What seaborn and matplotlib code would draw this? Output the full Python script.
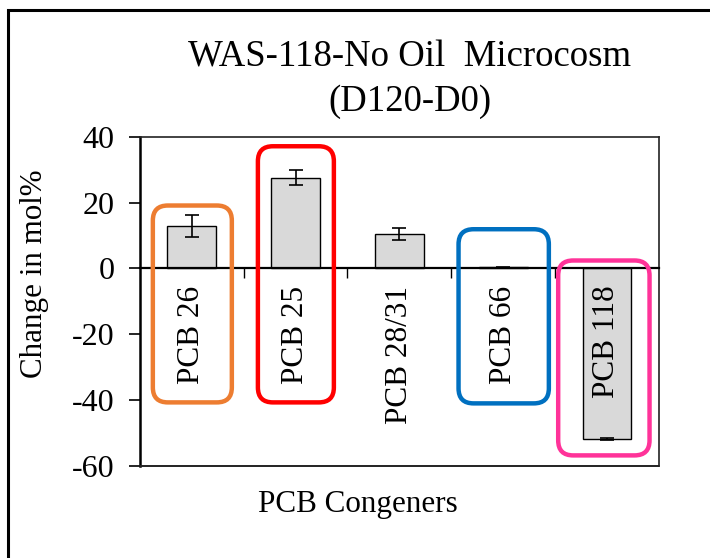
import numpy as np
import pandas as pd
import seaborn as sns
import matplotlib.pyplot as plt
from matplotlib.patches import FancyBboxPatch, Rectangle

# values
congeners = ["PCB 26", "PCB 25", "PCB 28/31", "PCB 66", "PCB 118"]
change = [12.8, 27.6, 10.4, 0.3, -51.8]
err = [3.3, 2.3, 1.8, 0.1, 0.4]

# highlight boxes: (category index, half-width left, half-width right, y top, y bottom, colour)
hl_index = [0, 1, 3, 4]
hl_left = [0.375, 0.363, 0.43, 0.47]
hl_right = [0.386, 0.369, 0.44, 0.41]
hl_top = [19.1, 37.1, 11.9, 2.4]
hl_bottom = [-40.7, -40.7, -41.0, -56.8]
hl_colors = ["#ED7D31", "#FF0000", "#0070C0", "#FF3399"]

df = pd.DataFrame({"congener": congeners, "change": change})

sns.set_style("white")
plt.rcParams["font.family"] = ["Liberation Serif", "DejaVu Serif"]
plt.rcParams["text.color"] = "black"
plt.rcParams["axes.labelcolor"] = "black"
plt.rcParams["xtick.color"] = "black"
plt.rcParams["ytick.color"] = "black"
plt.rcParams["axes.edgecolor"] = "black"
plt.rcParams["axes.unicode_minus"] = False

fig = plt.figure(figsize=(7.1, 5.58), dpi=100)
ax = fig.add_axes([0.197, 0.165, 0.731, 0.59])

sns.barplot(data=df, x="congener", y="change", color="#D9D9D9", edgecolor="black",
            linewidth=1, width=0.47, saturation=1, errorbar=None, ax=ax)
ax.errorbar(np.arange(len(change)), change, yerr=err, fmt="none", ecolor="black",
            elinewidth=1.2, capsize=5, capthick=1.2, zorder=5)

ax.set_ylim(-60, 40)
ax.set_xlim(-0.5, len(congeners) - 0.5)
ax.set_yticks([-60, -40, -20, 0, 20, 40])
ax.tick_params(axis="y", labelsize=23, direction="out", length=8, width=1.2, left=True, pad=10)
ax.set_ylabel("Change in mol%", fontsize=22.3)
ax.yaxis.set_label_coords(-0.175, 0.584)
ax.set_xlabel("")

# category axis sits at zero, ticks between categories
ax.spines["bottom"].set_position(("data", 0))
ax.spines["bottom"].set_linewidth(1.6)
ax.spines["left"].set_linewidth(1.8)
for s in ["top", "right"]:
    ax.spines[s].set_linewidth(1.2)
    ax.spines[s].set_color("#222222")
ax.set_xticks(np.arange(len(congeners) - 1) + 0.5)
ax.set_xticklabels([])
ax.tick_params(axis="x", bottom=True, direction="out", length=7, width=1.0)
ax.axhline(-60, color="#222222", lw=1.4, zorder=6, clip_on=False)

for i, name in enumerate(congeners):
    ax.text(i, -5.2, name, rotation=90, ha="center", va="top", fontsize=22.5, zorder=7)

# rounded highlight boxes (aspect fixed so corners look round)
bb = ax.get_window_extent()
px_x = bb.width / len(congeners)
px_y = bb.height / 100.0
aspect = px_x / px_y
r = 15 / px_x
for i, l, rr, t, b, c in zip(hl_index, hl_left, hl_right, hl_top, hl_bottom, hl_colors):
    box = FancyBboxPatch((i - l, b), l + rr, t - b,
                         boxstyle=f"round,pad=0,rounding_size={r}",
                         mutation_aspect=aspect, fill=False, edgecolor=c,
                         linewidth=3.2, zorder=8)
    ax.add_patch(box)

fig.text(0.577, 0.898, "WAS-118-No Oil  Microcosm", ha="center", va="center", fontsize=26.5)
fig.text(0.577, 0.818, "(D120-D0)", ha="center", va="center", fontsize=26.5)
fig.text(0.504, 0.095, "PCB Congeners", ha="center", va="center", fontsize=22.4)

fig.patches.append(Rectangle((8 / 710, -0.1), 1.1, 1.1 - 10 / 558,
                             transform=fig.transFigure, fill=False,
                             edgecolor="black", linewidth=2.2))

fig.savefig("out.png", dpi=100)
